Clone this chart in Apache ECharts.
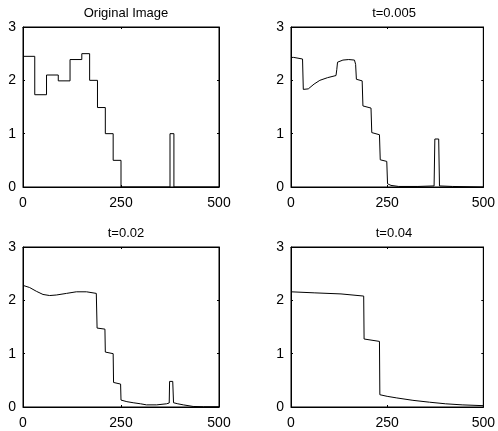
<!DOCTYPE html>
<html>
<head>
<meta charset="utf-8">
<script src="https://cdn.jsdelivr.net/npm/echarts@6/dist/echarts.min.js"></script>
<style>html,body{margin:0;padding:0;background:#fff;}#c{width:498px;height:431px;}</style>
</head>
<body>
<div id="c"></div>
<script>
// Panel titles
const titles = ['Original Image', 't=0.005', 't=0.02', 't=0.04'];
// Axis ticks
const xTicks = [0, 250, 500];
const yTicks = [0, 1, 2, 3];

// Original Image (piecewise constant)
const origX = [0, 30, 30, 60, 60, 90, 90, 120, 120, 150, 150, 170, 170, 190, 190, 210, 210, 230, 230, 250, 250, 375, 375, 385, 385, 500];
const origY = [2.45, 2.45, 1.73, 1.73, 2.1, 2.1, 1.99, 1.99, 2.39, 2.39, 2.5, 2.5, 2.0, 2.0, 1.49, 1.49, 1.0, 1.0, 0.5, 0.5, 0, 0, 1.0, 1.0, 0, 0];

// t=0.005
const t1X = [0, 7, 30, 32, 36, 45, 60, 75, 95, 117, 119, 121, 135, 150, 165, 168, 170, 185, 187, 208, 210, 230, 232, 249, 251, 260, 280, 330, 372, 374, 384, 386, 420, 500];
const t1Y = [2.43, 2.43, 2.4, 1.83, 1.82, 1.84, 1.93, 2.0, 2.05, 2.09, 2.2, 2.34, 2.38, 2.39, 2.38, 2.3, 2.02, 1.99, 1.52, 1.48, 1.02, 0.98, 0.51, 0.48, 0.06, 0.03, 0.01, 0.01, 0.02, 0.9, 0.9, 0.02, 0.01, 0.0];

// t=0.02
const t2X = [0, 17, 34, 51, 68, 85, 111, 136, 162, 187, 189, 209, 210, 230, 231, 249, 250, 265, 281, 300, 315, 341, 366, 373, 374, 382, 384, 395, 409, 434, 460, 500];
const t2Y = [2.28, 2.24, 2.17, 2.11, 2.09, 2.1, 2.13, 2.16, 2.16, 2.13, 1.48, 1.46, 1.03, 1.0, 0.46, 0.43, 0.13, 0.1, 0.08, 0.06, 0.04, 0.04, 0.06, 0.075, 0.48, 0.48, 0.08, 0.06, 0.04, 0.01, 0.005, 0.005];

// t=0.04
const t3X = [0, 62, 130, 189, 190, 230, 231, 250, 275, 317, 360, 402, 445, 500];
const t3Y = [2.16, 2.14, 2.12, 2.08, 1.275, 1.23, 0.23, 0.2, 0.17, 0.125, 0.09, 0.06, 0.04, 0.025];

const seriesX = [origX, t1X, t2X, t3X];
const seriesY = [origY, t1Y, t2Y, t3Y];

const grids = [
  {left: 23, top: 27, width: 196, height: 160},
  {left: 291, top: 27, width: 196, height: 160},
  {left: 23, top: 247, width: 196, height: 160},
  {left: 291, top: 247, width: 196, height: 160}
];

const FONT = 'Liberation Sans, Arial, sans-serif';
const black = '#000';

const option = {
  animation: false,
  backgroundColor: '#fff',
  title: [],
  grid: [],
  xAxis: [],
  yAxis: [],
  series: []
};

grids.forEach((g, i) => {
  option.grid.push({left: g.left, top: g.top, width: g.width, height: g.height,
    show: true, borderColor: black, borderWidth: 1, backgroundColor: 'transparent'});
  option.title.push({
    text: titles[i],
    left: g.left + g.width / 2,
    top: g.top - 25,
    textAlign: 'center',
    textStyle: {fontFamily: FONT, fontSize: 13, fontWeight: 'normal', color: black}
  });
  const axLine = {show: true, onZero: false, lineStyle: {color: black, width: 1}};
  const tick = {show: true, inside: true, length: 2, lineStyle: {color: black}};
  // bottom x
  option.xAxis.push({
    type: 'value', gridIndex: i, min: 0, max: 500, interval: 250, position: 'bottom',
    axisLine: axLine, axisTick: tick, splitLine: {show: false},
    axisLabel: {show: true, color: black, fontFamily: FONT, fontSize: 14, margin: 9,
      formatter: v => xTicks.indexOf(v) >= 0 ? String(v) : ''}
  });
  // top x
  option.xAxis.push({
    type: 'value', gridIndex: i, min: 0, max: 500, interval: 250, position: 'top',
    axisLine: axLine, axisTick: tick, splitLine: {show: false}, axisLabel: {show: false}
  });
  // left y
  option.yAxis.push({
    type: 'value', gridIndex: i, min: 0, max: 3, interval: 1, position: 'left',
    axisLine: axLine, axisTick: tick, splitLine: {show: false},
    axisLabel: {show: true, color: black, fontFamily: FONT, fontSize: 14, margin: 7,
      formatter: v => yTicks.indexOf(v) >= 0 ? String(v) : ''}
  });
  // right y
  option.yAxis.push({
    type: 'value', gridIndex: i, min: 0, max: 3, interval: 1, position: 'right',
    axisLine: axLine, axisTick: tick, splitLine: {show: false}, axisLabel: {show: false}
  });
  option.series.push({
    type: 'line',
    xAxisIndex: i * 2,
    yAxisIndex: i * 2,
    data: seriesX[i].map((x, k) => [x, seriesY[i][k]]),
    showSymbol: false,
    symbol: 'none',
    lineStyle: {color: black, width: 1},
    silent: true
  });
  // empty series binding the mirror axes so they are drawn
  option.series.push({
    type: 'line',
    xAxisIndex: i * 2 + 1,
    yAxisIndex: i * 2 + 1,
    data: [],
    showSymbol: false,
    silent: true
  });
});

const chart = echarts.init(document.getElementById('c'), null, {renderer: 'canvas'});
chart.setOption(option);
</script>
</body>
</html>
